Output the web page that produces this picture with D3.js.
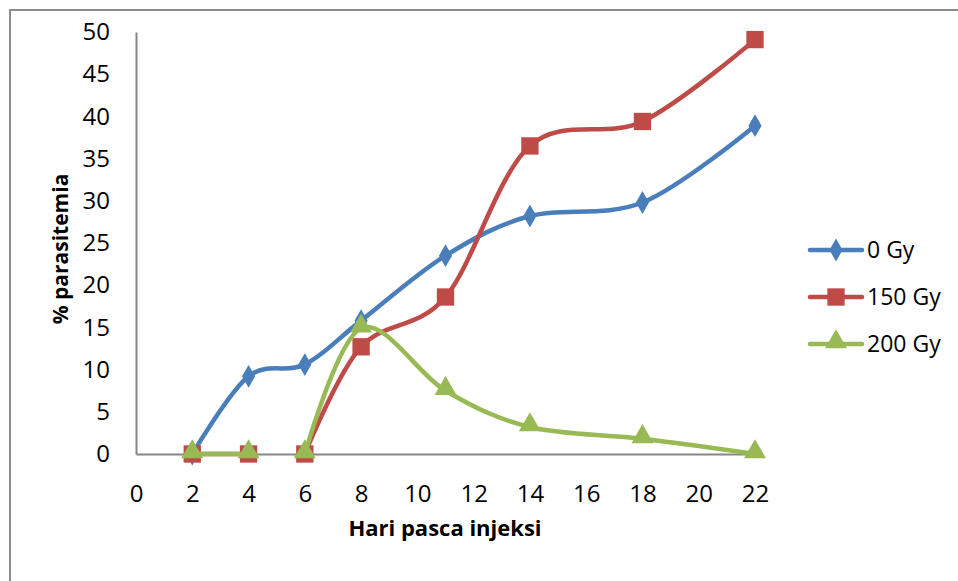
<!DOCTYPE html>
<html>
<head>
<meta charset="utf-8">
<script src="https://cdn.jsdelivr.net/npm/d3@7"></script>
<style>
  body { margin: 0; background: #fff; }
  svg text { font-family: "Open Sans", "Noto Sans", sans-serif; fill: #000; }
</style>
</head>
<body>
<div id="chart"></div>
<script>
// days on the x axis
let days = [2, 4, 6, 8, 11, 14, 18, 22];

// series values (% parasitemia)
let gy0 = [0, 9.2, 10.6, 15.8, 23.5, 28.2, 29.8, 38.9];
let gy150 = [0, 0, 0, 12.7, 18.6, 36.5, 39.4, 49.1];
let gy200 = [0, 0, 0, 14.9, 7.5, 3.2, 1.8, 0];

let seriesNames = ["0 Gy", "150 Gy", "200 Gy"];
// line is broken after this day (null = continuous)
let gapAfter = [null, 4, 4];

let xTicks = [0, 2, 4, 6, 8, 10, 12, 14, 16, 18, 20, 22];
let yTicks = [0, 5, 10, 15, 20, 25, 30, 35, 40, 45, 50];

function graph(){

	let width = 958;
	let height = 581;
	let margin = {top: 32, left: 136, right: 203, bottom: 127};

	let colors = ["#4a7ebb", "#be4b48", "#98b954"];
	let shapes = [d3.symbolDiamond, d3.symbolSquare, d3.symbolTriangle];
	let sizes = [150, 300, 210];

	let svg = d3.select("#chart")
		.append("svg")
		.attr("width", width)
		.attr("height", height);

	//outer frame (only top and left visible)
	svg.append("path")
		.attr("d", `M10,${height} L10,10 L${width},10`)
		.attr("fill", "none")
		.attr("stroke", "#8c8c8c")
		.attr("stroke-width", 2);

	const xScale = d3.scaleLinear()
		.domain([0, 22])
		.range([margin.left, width - margin.right]);

	const yScale = d3.scaleLinear()
		.domain([0, 50])
		.range([height - margin.bottom, margin.top]);

	//axes
	let xAxis = d3.axisBottom(xScale).tickValues(xTicks).tickSize(0).tickPadding(31);
	let yAxis = d3.axisLeft(yScale).tickValues(yTicks).tickSize(0).tickPadding(26);

	let gx = svg.append("g")
		.attr("transform", `translate(0,${height - margin.bottom})`)
		.call(xAxis);
	let gy = svg.append("g")
		.attr("transform", `translate(${margin.left},0)`)
		.call(yAxis);

	[gx, gy].forEach((g)=>{
		g.select(".domain").attr("stroke", "#868686").attr("stroke-width", 2);
		g.selectAll("text").style("font-size", "24px").attr("fill", "#000");
	});

	//axis titles
	svg.append("text")
		.attr("x", 445)
		.attr("y", 536)
		.attr("text-anchor", "middle")
		.style("font-size", "22px")
		.style("font-weight", "bold")
		.text("Hari pasca injeksi");

	svg.append("text")
		.attr("transform", "translate(68,249) rotate(-90)")
		.attr("text-anchor", "middle")
		.style("font-size", "21px")
		.style("font-weight", "bold")
		.text("% parasitemia");

	let allValues = [gy0, gy150, gy200];

	let line = d3.line()
		.curve(d3.curveCatmullRom.alpha(0))
		.x((d)=>{ return xScale(d.day); })
		.y((d)=>{ return yScale(d.value); });

	allValues.forEach((values, i)=>{
		let pts = days.map((d, j)=>{ return {day: d, value: values[j]}; });

		//split into segments at the gap
		let segments = [pts];
		if (gapAfter[i] !== null){
			segments = [pts.filter((p)=>{ return p.day <= gapAfter[i]; }),
				pts.filter((p)=>{ return p.day > gapAfter[i]; })];
		}

		let g = svg.append("g");

		segments.forEach((seg)=>{
			g.append("path")
				.attr("d", line(seg))
				.attr("fill", "none")
				.attr("stroke", colors[i])
				.attr("stroke-width", 4.5)
				.attr("stroke-linejoin", "round")
				.attr("stroke-linecap", "round");
		});

		g.selectAll(".marker")
			.data(pts)
			.enter()
			.append("path")
			.attr("class", "marker")
			.attr("d", d3.symbol().type(shapes[i]).size(sizes[i]))
			.attr("transform", (d)=>{ return `translate(${xScale(d.day)},${yScale(d.value) - (i === 2 ? 2 : 0)})`; })
			.attr("fill", colors[i]);
	});

	//legend
	let legend = svg.append("g");
	seriesNames.forEach((name, i)=>{
		let y = 250 + i * 47;
		legend.append("line")
			.attr("x1", 810)
			.attr("x2", 862)
			.attr("y1", y)
			.attr("y2", y)
			.attr("stroke", colors[i])
			.attr("stroke-width", 4.5)
			.attr("stroke-linecap", "round");
		legend.append("path")
			.attr("d", d3.symbol().type(shapes[i]).size(sizes[i]))
			.attr("transform", `translate(836,${y - (i === 2 ? 2 : 0)})`)
			.attr("fill", colors[i]);
		legend.append("text")
			.attr("x", 867)
			.attr("y", y)
			.attr("dy", "0.35em")
			.style("font-size", "23px")
			.text(name);
	});
}

graph();
</script>
</body>
</html>
